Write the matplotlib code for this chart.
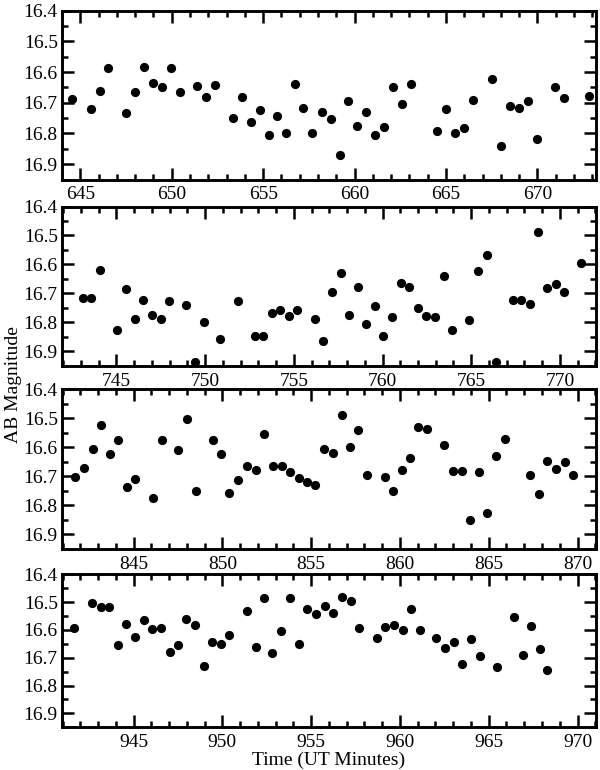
import matplotlib
matplotlib.use('Agg')
import matplotlib.pyplot as plt
from matplotlib.ticker import MultipleLocator, FormatStrFormatter

plt.rcParams['font.family'] = ['Liberation Serif', 'DejaVu Serif']
plt.rcParams['font.size'] = 14

# light curve, four 30 minute chunks (time in UT minutes, AB magnitude)
t1 = [644.57, 645.56, 646.07, 646.54, 647.49, 647.99, 648.49, 648.98, 649.45, 649.95,
      650.44, 651.40, 651.90, 652.37, 653.35, 653.84, 654.33, 654.81, 655.30, 655.75,
      656.27, 656.76, 657.20, 657.69, 658.21, 658.69, 659.18, 659.66, 660.15, 660.64,
      661.13, 661.62, 662.11, 662.59, 663.08, 664.52, 665.01, 665.50, 665.99, 666.46,
      667.50, 667.99, 668.48, 668.98, 669.47, 669.98, 670.97, 671.44, 672.81]
m1 = [16.687, 16.720, 16.663, 16.588, 16.733, 16.666, 16.583, 16.636, 16.649, 16.588,
      16.664, 16.646, 16.682, 16.641, 16.750, 16.682, 16.762, 16.722, 16.804, 16.742,
      16.798, 16.640, 16.718, 16.798, 16.729, 16.754, 16.870, 16.695, 16.777, 16.729,
      16.804, 16.779, 16.647, 16.703, 16.638, 16.792, 16.720, 16.798, 16.783, 16.691,
      16.621, 16.842, 16.711, 16.718, 16.695, 16.818, 16.648, 16.684, 16.678]

t2 = [743.10, 743.59, 744.08, 745.04, 745.55, 746.03, 746.52, 747.01, 747.50, 747.97,
      748.94, 749.43, 749.92, 750.86, 751.83, 752.79, 753.29, 753.77, 754.25, 754.74,
      755.20, 756.17, 756.67, 757.16, 757.65, 758.12, 758.61, 759.09, 759.58, 760.05,
      760.54, 761.03, 761.51, 761.98, 762.47, 762.96, 763.45, 763.92, 764.89, 765.37,
      765.87, 766.38, 767.34, 767.82, 768.31, 768.78, 769.27, 769.76, 770.24, 771.17]
m2 = [16.715, 16.715, 16.619, 16.828, 16.686, 16.788, 16.722, 16.775, 16.788, 16.725,
      16.741, 16.937, 16.799, 16.859, 16.728, 16.847, 16.847, 16.768, 16.757, 16.777,
      16.756, 16.789, 16.866, 16.696, 16.629, 16.774, 16.679, 16.805, 16.744, 16.848,
      16.781, 16.666, 16.679, 16.750, 16.778, 16.783, 16.639, 16.828, 16.792, 16.622,
      16.566, 16.937, 16.722, 16.722, 16.737, 16.489, 16.682, 16.669, 16.695, 16.596]

t3 = [841.72, 842.21, 842.69, 843.18, 843.67, 844.14, 844.63, 845.10, 846.09, 846.60,
      847.53, 848.02, 848.51, 849.47, 849.94, 850.40, 850.89, 851.38, 851.87, 852.36,
      852.85, 853.34, 853.82, 854.30, 854.76, 855.24, 855.73, 856.22, 856.71, 857.19,
      857.66, 858.17, 859.15, 859.63, 860.10, 860.57, 861.04, 861.53, 862.50, 862.99,
      863.48, 863.96, 864.44, 864.92, 865.41, 865.90, 867.32, 867.81, 868.30, 868.79,
      869.31, 869.74]
m3 = [16.701, 16.670, 16.606, 16.523, 16.622, 16.575, 16.738, 16.710, 16.776, 16.575,
      16.611, 16.502, 16.752, 16.575, 16.624, 16.756, 16.714, 16.663, 16.680, 16.553,
      16.663, 16.665, 16.685, 16.706, 16.718, 16.730, 16.607, 16.621, 16.488, 16.599,
      16.542, 16.697, 16.704, 16.751, 16.680, 16.637, 16.530, 16.537, 16.593, 16.681,
      16.681, 16.849, 16.684, 16.827, 16.629, 16.571, 16.697, 16.762, 16.647, 16.674,
      16.652, 16.694]

t4 = [941.66, 942.66, 943.14, 943.62, 944.10, 944.59, 945.08, 945.56, 946.04, 946.52,
      947.03, 947.50, 947.98, 948.47, 948.94, 949.43, 949.92, 950.40, 951.38, 951.87,
      952.34, 952.82, 953.31, 953.80, 954.30, 954.79, 955.28, 955.77, 956.25, 956.74,
      957.23, 957.72, 958.70, 959.18, 959.67, 960.16, 960.64, 961.12, 962.05, 962.54,
      963.03, 963.51, 964.00, 964.49, 965.47, 966.44, 966.93, 967.40, 967.87, 968.30]
m4 = [16.592, 16.502, 16.517, 16.517, 16.655, 16.580, 16.627, 16.565, 16.597, 16.594,
      16.679, 16.655, 16.561, 16.582, 16.728, 16.643, 16.651, 16.618, 16.533, 16.663,
      16.484, 16.682, 16.603, 16.484, 16.651, 16.525, 16.544, 16.513, 16.540, 16.481,
      16.496, 16.594, 16.628, 16.591, 16.583, 16.600, 16.524, 16.600, 16.628, 16.665,
      16.643, 16.722, 16.633, 16.694, 16.733, 16.552, 16.690, 16.586, 16.669, 16.745]

chunks = [(t1, m1), (t2, m2), (t3, m3), (t4, m4)]
xlims = [(644.0, 673.2), (741.94, 772.03), (840.97, 871.04), (940.97, 971.04)]

# panel boxes in pixels (top, bottom) of a 600x770 image
W, H = 600., 770.
left, right = 62., 596.
boxes = [(10.7, 179.5), (206.5, 365.7), (389., 549.), (574.3, 727.3)]

fig = plt.figure(figsize=(6, 7.7), dpi=100)

for (t, m), xl, (top, bot) in zip(chunks, xlims, boxes):
    ax = fig.add_axes([left / W, 1 - bot / H, (right - left) / W, (bot - top) / H])
    ax.plot(t, m, 'o', color='black', markersize=5.6, linestyle='none')
    ax.set_xlim(xl)
    ax.set_ylim(16.95, 16.4)

    ax.xaxis.set_major_locator(MultipleLocator(5))
    ax.xaxis.set_minor_locator(MultipleLocator(1))
    ax.set_yticks([16.4, 16.5, 16.6, 16.7, 16.8, 16.9])
    ax.yaxis.set_minor_locator(MultipleLocator(0.05))
    ax.yaxis.set_major_formatter(FormatStrFormatter('%.1f'))

    ax.tick_params(which='both', direction='in', top=True, right=True, width=1.8)
    ax.tick_params(which='major', length=8.5, labelsize=14)
    ax.tick_params(which='minor', length=4.5)
    ax.tick_params(axis='x', which='major', pad=5)
    ax.tick_params(axis='y', which='major', pad=3)
    for s in ax.spines.values():
        s.set_linewidth(2.1)

fig.text(0.5 * (left + right) / W, 1 - 760 / H, 'Time (UT Minutes)',
         ha='center', va='center', fontsize=14)
fig.text(14 / W, 1 - 385 / H, 'AB Magnitude', rotation=90,
         ha='center', va='center', fontsize=14)

fig.savefig('out.png', dpi=100)
